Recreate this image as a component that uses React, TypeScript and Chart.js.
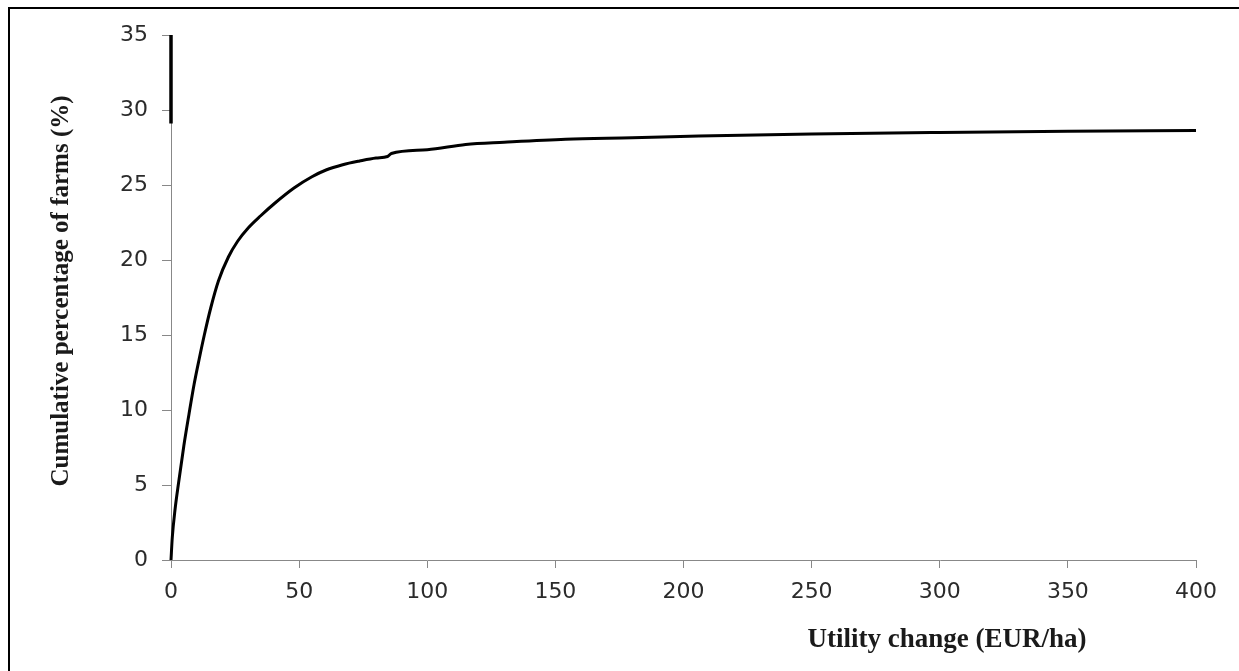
import React, { useEffect, useRef } from "react";
import { Chart, registerables } from "chart.js";

Chart.register(...registerables);

const utilityChange = [0, 0.5, 1.6, 3, 5, 7, 9, 11, 13, 15.5, 18.5, 22.4, 26, 30.2, 35, 40.6, 48, 55, 60.5, 67, 73.6, 80, 84.5, 86, 100, 115, 130, 154, 180, 206, 250, 300, 350, 400];
const cumulativePct = [0, 1.5, 3.4, 5.2, 7.6, 9.7, 11.7, 13.4, 15, 16.8, 18.6, 20.2, 21.25, 22.15, 22.95, 23.8, 24.8, 25.55, 26.0, 26.35, 26.6, 26.8, 26.9, 27.1, 27.35, 27.7, 27.85, 28.05, 28.15, 28.27, 28.4, 28.5, 28.58, 28.63];
const topSegmentX = [0, 0];
const topSegmentY = [29.1, 35];
const xTitle = "Utility change (EUR/ha)";
const yTitle = "Cumulative percentage of farms (%)";

const W = 1239;
const H = 671;

const framePlugin = {
  id: "frameAndTitles",
  afterDraw(chart: any) {
    const ctx = chart.ctx;
    ctx.save();
    ctx.strokeStyle = "#000";
    ctx.lineWidth = 2;
    ctx.beginPath();
    ctx.moveTo(9, H);
    ctx.lineTo(9, 8);
    ctx.lineTo(W, 8);
    ctx.stroke();

    ctx.fillStyle = "#1a1a1a";
    ctx.font = "bold 27px 'Liberation Serif', 'Times New Roman', serif";
    ctx.textAlign = "center";
    ctx.textBaseline = "middle";
    ctx.fillText(xTitle, 947, 640);

    ctx.font = "bold 25px 'Liberation Serif', 'Times New Roman', serif";
    ctx.translate(62, 291);
    ctx.rotate(-Math.PI / 2);
    ctx.fillText(yTitle, 0, 0);
    ctx.restore();
  },
};

export default function App() {
  const ref = useRef<HTMLCanvasElement | null>(null);
  useEffect(() => {
    if (!ref.current) return;
    const curve = utilityChange.map((x, i) => ({ x, y: cumulativePct[i] }));
    const seg = topSegmentX.map((x, i) => ({ x, y: topSegmentY[i] }));
    const tickFont = { family: "'DejaVu Sans', Tahoma, sans-serif", size: 22 };
    const chart = new Chart(ref.current, {
      type: "line",
      data: {
        datasets: [
          {
            data: curve,
            borderColor: "#000",
            borderWidth: 3,
            pointRadius: 0,
            cubicInterpolationMode: "monotone",
            fill: false,
            clip: false,
          },
          {
            data: seg,
            borderColor: "#000",
            borderWidth: 3.5,
            pointRadius: 0,
            fill: false,
            clip: false,
          },
        ],
      },
      options: {
        responsive: false,
        animation: false,
        layout: { padding: { left: 0, top: 35, right: 43, bottom: 0 } },
        plugins: { legend: { display: false }, tooltip: { enabled: false } },
        scales: {
          x: {
            type: "linear",
            min: 0,
            max: 400,
            ticks: { stepSize: 50, color: "#2b2b2b", font: tickFont, padding: 11, maxRotation: 0 },
            grid: { drawOnChartArea: false, drawTicks: true, tickLength: 8, color: "#888" },
            border: { color: "#888", width: 1 },
            afterFit: (s: any) => {
              s.height = 111;
            },
          },
          y: {
            type: "linear",
            min: 0,
            max: 35,
            ticks: { stepSize: 5, color: "#2b2b2b", font: tickFont, padding: 14 },
            grid: { drawOnChartArea: false, drawTicks: true, tickLength: 9, color: "#888" },
            border: { color: "#888", width: 1 },
            afterFit: (s: any) => {
              s.width = 171;
            },
          },
        },
      },
      plugins: [framePlugin],
    } as any);
    return () => chart.destroy();
  }, []);
  return (
    <div style={{ position: "fixed", left: 0, top: 0, width: W, height: H, background: "#fff" }}>
      <canvas ref={ref} width={W} height={H} style={{ width: W, height: H, display: "block" }} />
    </div>
  );
}
